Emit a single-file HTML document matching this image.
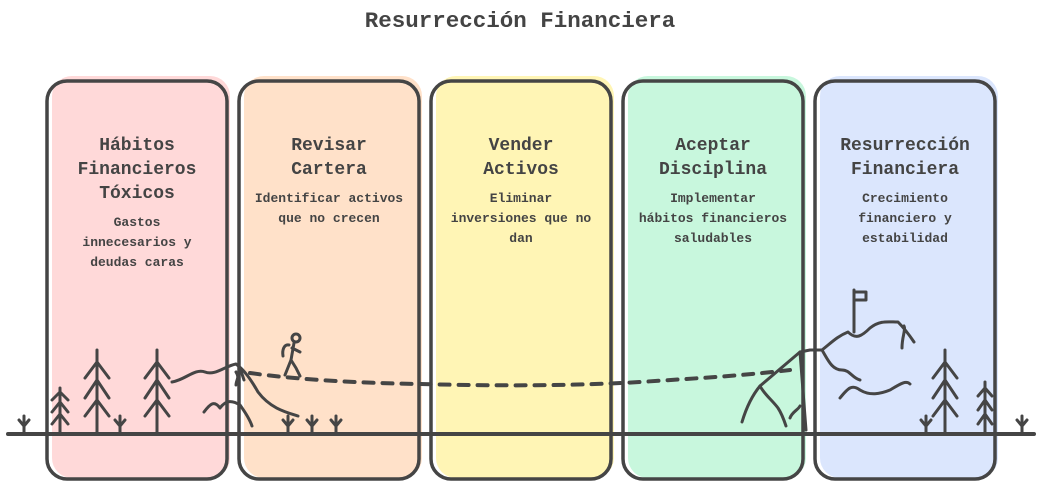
<!DOCTYPE html>
<html><head><meta charset="utf-8"><style>
html,body{margin:0;padding:0;background:#fff;}
svg{display:block;}
text{font-family:"Liberation Mono",monospace;fill:#444;font-weight:bold;text-anchor:middle;}
.h{font-size:18px;}
.s{font-size:13px;}
</style></head><body>
<svg width="1041" height="500" viewBox="0 0 1041 500">
<text x="520" y="27" style="font-size:22.5px">Resurrección Financiera</text>
<g stroke="none">
<rect x="52" y="76" width="178" height="402" rx="20" fill="#ffd9d9"/>
<rect x="244" y="76" width="178" height="402" rx="20" fill="#ffe1c9"/>
<rect x="436" y="76" width="178" height="402" rx="20" fill="#fff5b5"/>
<rect x="628" y="76" width="178" height="402" rx="20" fill="#c8f7dd"/>
<rect x="820" y="76" width="178" height="402" rx="20" fill="#dbe6fd"/>
</g>
<g fill="none" stroke="#454545" stroke-width="3.5">
<rect x="47" y="81" width="180" height="398" rx="20"/>
<rect x="239" y="81" width="180" height="398" rx="20"/>
<rect x="431" y="81" width="180" height="398" rx="20"/>
<rect x="623" y="81" width="180" height="398" rx="20"/>
<rect x="815" y="81" width="180" height="398" rx="20"/>
</g>
<text class="h" x="137" y="150">Hábitos</text>
<text class="h" x="137" y="174">Financieros</text>
<text class="h" x="137" y="198">Tóxicos</text>
<text class="s" x="137" y="226">Gastos</text>
<text class="s" x="137" y="246">innecesarios y</text>
<text class="s" x="137" y="266">deudas caras</text>
<text class="h" x="329" y="150">Revisar</text>
<text class="h" x="329" y="174">Cartera</text>
<text class="s" x="329" y="202">Identificar activos</text>
<text class="s" x="329" y="222">que no crecen</text>
<text class="h" x="521" y="150">Vender</text>
<text class="h" x="521" y="174">Activos</text>
<text class="s" x="521" y="202">Eliminar</text>
<text class="s" x="521" y="222">inversiones que no</text>
<text class="s" x="521" y="242">dan</text>
<text class="h" x="713" y="150">Aceptar</text>
<text class="h" x="713" y="174">Disciplina</text>
<text class="s" x="713" y="202">Implementar</text>
<text class="s" x="713" y="222">hábitos financieros</text>
<text class="s" x="713" y="242">saludables</text>
<text class="h" x="905" y="150">Resurrección</text>
<text class="h" x="905" y="174">Financiera</text>
<text class="s" x="905" y="202">Crecimiento</text>
<text class="s" x="905" y="222">financiero y</text>
<text class="s" x="905" y="242">estabilidad</text>
<g fill="none" stroke="#454545" stroke-width="3" stroke-linecap="round" stroke-linejoin="round">
<line x1="8" y1="434" x2="1034" y2="434" stroke-width="4"/>
<path d="M97 350V432M85 378L97 362L109 378M85 398L97 380L109 398M85 416L97 400L109 416"/>
<path d="M157 350V432M145 378L157 362L169 378M145 398L157 380L169 398M145 416L157 400L169 416"/>
<path d="M60 388V432M52 400L60 392L68 400M52 412L60 402L68 412M52 424L60 414L68 424"/>
<path d="M945 350V432M933 378L945 362L957 378M933 398L945 380L957 398M933 416L945 400L957 416"/>
<path d="M985 382V432M978 396L985 388L992 396M978 410L985 400L992 410M978 424L985 414L992 424"/>
<path d="M24 432V416M19 420L24 426L29 420"/>
<path d="M120 432V416M115 420L120 426L125 420"/>
<path d="M288 432V416M283 420L288 426L293 420"/>
<path d="M312 432V416M307 420L312 426L317 420"/>
<path d="M336 432V416M331 420L336 426L341 420"/>
<path d="M926 432V416M921 420L926 426L931 420"/>
<path d="M1022 432V416M1017 420L1022 426L1027 420"/>
<path d="M172 382C185 380 195 368 205 372C215 376 225 366 236 364C244 370 250 378 258 392C270 408 285 412 298 416"/>
<path d="M204 412C210 404 214 400 220 408C226 400 232 400 240 405C245 412 250 420 252 426"/>
<path d="M240 368L244 380M236 372C240 378 236 380 236 385"/>
<circle cx="296" cy="338" r="4"/>
<path d="M294 343L291 360L285 375M291 360L296 368L300 376M292 348L300 352M289 345C284 344 282 350 283 356"/>
<path d="M250 373C300 380 360 383 420 384C500 386 570 386 640 382C700 378 740 376 790 370" stroke-width="4" stroke-dasharray="10 9"/>
<path d="M742 422C748 402 755 392 760 386C764 394 772 400 778 408C782 414 784 420 786 426M790 418C792 412 798 410 800 406"/>
<path d="M760 386L800 352L810 350L822 350C828 360 832 370 842 370C850 370 852 378 860 380"/>
<path d="M822 350C832 342 838 336 848 332C856 340 862 336 870 328C880 320 888 322 898 322C906 330 910 336 914 342M904 326C906 330 902 336 902 348"/>
<path d="M840 398C848 388 852 384 860 390C870 396 880 394 890 390C900 384 906 380 910 384"/>
<path d="M854 332V290M854 292H866V300H856"/>
<path d="M800 352L806 430"/>
</g>
</svg>
</body></html>
